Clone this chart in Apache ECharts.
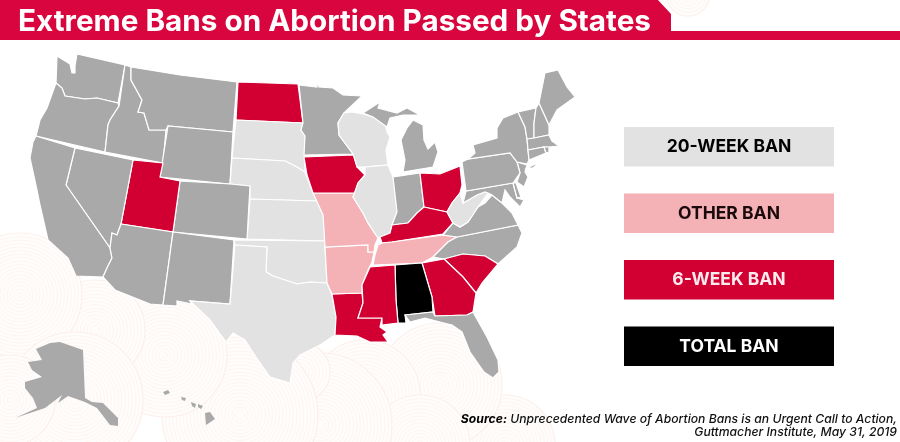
<!DOCTYPE html>
<html>
<head>
<meta charset="utf-8">
<style>html,body{margin:0;padding:0;background:#fff}#map{width:900px;height:442px}</style>
<script src="https://cdn.jsdelivr.net/npm/echarts@6/dist/echarts.min.js"></script>
</head>
<body>
<div id="map"></div>
<script>
// which state has which ban
var twentyWeek = ['SD', 'NE', 'KS', 'OK', 'TX', 'WI', 'IL', 'WV'];
var otherBan = ['MO', 'AR', 'TN'];
var sixWeek = ['ND', 'IA', 'UT', 'OH', 'KY', 'MS', 'LA', 'GA', 'SC'];
var totalBan = ['AL'];
var noBan = ['WA', 'OR', 'CA', 'NV', 'ID', 'MT', 'WY', 'CO', 'AZ', 'NM', 'MN', 'MI', 'IN', 'PA', 'NY', 'VT', 'NH', 'ME',
    'MA', 'CT', 'RI', 'NJ', 'DE', 'MD', 'VA', 'NC', 'FL', 'AK', 'HI'];

var legendNames = ['20-WEEK BAN', 'OTHER BAN', '6-WEEK BAN', 'TOTAL BAN'];
var legendColors = ['#e2e2e2', '#f4b1b6', '#d20032', '#000000'];
var legendText = ['#000000', '#1a0a0c', '#fbeaee', '#ffffff'];
var greyColor = '#a9a9a9';

var titleText = 'Extreme Bans on Abortion Passed by States';

// outlines, same x/y as the page (there is no map file to load offline)
var outlines = {
    WA: [[[57,56],[70,64],[72,73],[75,73],[75,66],[77,54],[125,65],[118,103],[97,98],[85,99],[65,96],[62,88],[56,83]]],
    OR: [[[56,83],[62,88],[65,96],[85,99],[97,98],[118,103],[119,106],[110,120],[108,125],[105,152],[36,136],[40,120],[47,108]]],
    ID: [[[125,65],[131,67],[131,80],[142,100],[138,112],[144,113],[149,130],[166,130],[163,163],[105,152],[108,125],[110,120],[119,106]]],
    MT: [[[131,67],[180,75],[237,82],[233,132],[168,126],[166,130],[149,130],[144,113],[138,112],[142,100],[131,80]]],
    WY: [[[168,126],[233,132],[230,184],[160,177]]],
    ND: [[[238,82],[298,84],[303,123],[236,120]]],
    SD: [[[236,120],[303,123],[301,130],[305,136],[305,172],[297,167],[285,161],[232,158]]],
    NE: [[[232,158],[285,161],[297,167],[305,172],[311,188],[317,201],[250,199],[250,186],[230,184]]],
    KS: [[[250,199],[317,201],[325,212],[326,241],[247,239]]],
    CO: [[[180,181],[230,184],[250,186],[247,239],[173,232]]],
    UT: [[[133,160],[163,163],[160,177],[180,181],[173,232],[121,224]]],
    NV: [[[75,148],[133,160],[121,224],[117,235],[112,233],[110,248],[66,185]]],
    CA: [[[36,136],[75,148],[66,185],[110,248],[112,258],[107,268],[103,277],[76,276],[68,258],[48,240],[40,205],[37,190],[30,158],[33,142]]],
    AZ: [[[121,224],[173,232],[163,305],[150,304],[115,290],[103,277],[107,268],[112,258],[110,248],[112,233],[117,235]]],
    NM: [[[173,232],[234,240],[230,304],[190,301],[192,304],[177,301],[177,306],[163,305]]],
    OK: [[[234,240],[326,241],[325,247],[327,283],[310,282],[297,284],[273,276],[266,272],[267,247],[235,245]]],
    TX: [[[235,245],[267,247],[266,272],[273,276],[297,284],[310,282],[327,283],[332,295],[336,317],[335,335],[320,345],[300,355],[293,363],[290,383],[270,377],[256,357],[245,340],[233,333],[226,342],[210,320],[190,301],[230,304]]],
    LA: [[[332,294],[362,293],[363,303],[358,318],[382,318],[380,327],[387,332],[383,335],[388,342],[370,342],[357,336],[335,335],[336,317]]],
    AR: [[[325,247],[368,245],[368,252],[374,252],[372,262],[368,270],[362,285],[362,293],[332,294],[327,283]]],
    MO: [[[313,193],[355,193],[353,197],[363,213],[368,223],[378,238],[375,245],[374,252],[368,252],[368,245],[325,247],[324,230],[323,215]]],
    IA: [[[304,157],[354,155],[357,167],[365,175],[358,183],[355,193],[313,193],[307,175]]],
    MN: [[[299,85],[317,87],[317,80],[319,87],[333,88],[343,95],[362,96],[344,113],[338,123],[339,135],[353,154],[304,155],[305,136],[301,130],[303,123]]],
    WI: [[[344,113],[352,112],[363,114],[373,117],[385,123],[387,132],[390,137],[386,150],[388,165],[365,167],[357,167],[353,154],[339,135],[338,123]]],
    MI: [[[363,113],[380,102],[378,108],[397,113],[407,108],[420,115],[403,115],[390,118],[387,127],[373,117]],
        [[413,120],[423,125],[424,140],[428,149],[435,142],[438,152],[433,167],[403,172],[405,160],[401,140],[407,128]]],
    IL: [[[365,167],[388,165],[393,177],[395,190],[397,212],[392,225],[390,233],[380,237],[378,238],[368,223],[363,213],[353,197],[358,183],[365,175]]],
    IN: [[[393,177],[420,173],[424,207],[417,213],[408,223],[392,225],[397,212]]],
    OH: [[[420,173],[440,174],[460,166],[462,185],[460,193],[452,203],[447,212],[433,209],[424,207]]],
    KY: [[[424,207],[433,209],[447,212],[453,223],[443,234],[392,242],[382,243],[380,237],[390,233],[392,225],[408,223],[417,213]]],
    TN: [[[378,245],[382,243],[392,242],[443,235],[457,237],[448,242],[433,257],[422,263],[373,265],[375,255]]],
    NC: [[[457,237],[518,225],[522,233],[517,247],[498,264],[485,256],[463,254],[444,259],[433,257],[448,242]]],
    VA: [[[443,235],[453,223],[460,227],[468,222],[478,207],[485,203],[492,195],[502,203],[512,213],[518,225],[457,237]]],
    WV: [[[447,212],[452,203],[460,193],[463,203],[477,195],[485,192],[488,193],[478,207],[468,222],[460,227],[453,223]]],
    MD: [[[466,191],[513,183],[517,198],[524,200],[520,207],[510,197],[505,190],[502,203],[492,195],[488,193],[485,192],[477,195],[463,203]]],
    DE: [[[513,183],[516,183],[521,197],[517,198]]],
    NJ: [[[517,162],[527,165],[525,172],[528,177],[524,187],[517,182],[520,173]]],
    PA: [[[462,162],[468,159],[510,153],[517,162],[520,173],[513,183],[466,191]]],
    NY: [[[468,159],[475,153],[473,145],[497,138],[497,128],[503,118],[518,112],[525,127],[527,139],[528,150],[529,160],[527,164],[517,162],[510,153]],
        [[527,168],[540,162],[533,168]]],
    VT: [[[518,112],[536,108],[534,123],[534,138],[527,139],[525,127]]],
    NH: [[[536,108],[539,103],[549,125],[549,135],[534,138],[534,123]]],
    ME: [[[539,103],[545,73],[558,70],[567,87],[575,97],[557,110],[549,125]]],
    MA: [[[527,139],[534,138],[549,135],[552,141],[559,146],[549,147],[544,147],[528,150]]],
    CT: [[[528,150],[544,147],[546,153],[529,160]]],
    RI: [[[544,147],[549,147],[549,152],[546,153]]],
    SC: [[[444,259],[463,254],[485,256],[498,264],[482,283],[476,293],[463,277]]],
    GA: [[[422,263],[444,259],[463,277],[476,293],[473,312],[467,315],[435,316],[432,297]]],
    AL: [[[395,265],[422,263],[432,297],[433,312],[405,315],[406,323],[398,323],[396,300]]],
    MS: [[[370,267],[395,265],[396,300],[398,323],[382,325],[382,318],[358,318],[363,303],[362,285]]],
    FL: [[[405,315],[433,312],[435,316],[467,315],[473,312],[487,337],[498,360],[499,372],[493,378],[484,372],[470,352],[462,332],[452,325],[440,322],[425,318],[410,322]]],
    AK: [[[36,349],[50,343],[60,342],[83,350],[85,398],[92,402],[103,403],[118,418],[118,426],[110,425],[97,408],[85,402],[68,396],[58,403],[62,395],[45,408],[15,418],[37,408],[33,398],[25,388],[25,382],[42,377],[32,370],[28,362],[42,360]]],
    HI: [[[163,392],[168,390],[170,393],[165,395]],
        [[181,397],[186,398],[185,401],[182,400]],
        [[191,402],[196,404],[195,408],[192,406]],
        [[198,404],[203,406],[201,409],[198,407]],
        [[205,413],[210,412],[215,419],[206,425]]]
};

function buildGeoJson() {
    var features = [];
    for (var code in outlines) {
        features.push({
            type: 'Feature',
            properties: { name: code },
            geometry: {
                type: 'MultiPolygon',
                // map y grows upwards, page y grows downwards
                coordinates: outlines[code].map(function (ring) {
                    return [ring.map(function (p) { return [p[0], -p[1]]; })];
                })
            }
        });
    }
    return { type: 'FeatureCollection', features: features };
}

function stateData(list, color) {
    return list.map(function (code) {
        var style = { areaColor: color };
        // the insets have no white edge in the picture
        if (code === 'AK' || code === 'HI') {
            style.borderWidth = 0;
        }
        return { name: code, itemStyle: style };
    });
}

// pale swirl pattern behind the map
function swirl(cx, cy, r) {
    var out = [];
    for (var k = r; k > 2; k -= 3.5) {
        out.push({
            type: 'circle',
            silent: true,
            z: 0,
            shape: { cx: cx, cy: cy, r: k },
            style: { fill: k === r ? '#fffdfc' : 'none', stroke: '#fcefe9', lineWidth: k === r ? 1.2 : 0.6 }
        });
    }
    return out;
}

var swirls = [[505, 445, 50], [440, 385, 62], [365, 395, 55], [420, 445, 50], [320, 425, 72], [300, 372, 30], [240, 415, 78],
    [165, 355, 62], [95, 330, 50], [20, 295, 62], [75, 400, 68], [10, 400, 45]];
var graphics = [];
swirls.forEach(function (s) {
    graphics = graphics.concat(swirl(s[0], s[1], s[2]));
});
graphics = graphics.concat(swirl(688, -6, 22));

// header band with the notch on the right
graphics.push({
    type: 'polygon',
    silent: true,
    z: 5,
    shape: { points: [[0, 0], [658, 0], [671, 14], [671, 31], [900, 31], [900, 40], [0, 40]] },
    style: { fill: '#d9053e' }
});

legendNames.forEach(function (name, i) {
    graphics.push({
        type: 'rect',
        silent: true,
        z: 5,
        shape: { x: 624, y: 127 + i * 66.5, width: 210, height: 39.5 },
        style: { fill: legendColors[i] }
    });
    graphics.push({
        type: 'text',
        silent: true,
        z: 6,
        style: {
            x: 729,
            y: 147 + i * 66.5,
            text: name,
            align: 'center',
            verticalAlign: 'middle',
            fill: legendText[i],
            font: '700 17.5px Inter, sans-serif'
        }
    });
});

var sourceFont = 'italic 500 12.2px Inter, sans-serif';
graphics.push({
    type: 'text',
    silent: true,
    z: 6,
    style: {
        x: 897,
        y: 419,
        text: '{b|Source:} Unprecedented Wave of Abortion Bans is an Urgent Call to Action,',
        align: 'right',
        verticalAlign: 'middle',
        fill: '#111',
        font: sourceFont,
        rich: { b: { font: 'italic 700 12.2px Inter, sans-serif', fill: '#000' } }
    }
});
graphics.push({
    type: 'text',
    silent: true,
    z: 6,
    style: {
        x: 897,
        y: 432,
        text: 'Guttmacher Institute, May 31, 2019',
        align: 'right',
        verticalAlign: 'middle',
        fill: '#111',
        font: sourceFont
    }
});

var myChart = echarts.init(document.getElementById('map'), null, { renderer: 'canvas' });
echarts.registerMap('usStates', buildGeoJson());

var option = {
    animation: false,
    backgroundColor: '#fff',
    title: {
        text: titleText,
        left: 13,
        top: 2,
        z: 10,
        textStyle: { color: '#fff', fontFamily: 'Inter, sans-serif', fontWeight: 700, fontSize: 29.7 }
    },
    tooltip: { show: false },
    graphic: { elements: graphics },
    series: [{
        type: 'map',
        map: 'usStates',
        roam: false,
        aspectScale: 1,
        boundingCoords: [[0, 0], [900, -442]],
        left: 0,
        top: 0,
        right: 0,
        bottom: 0,
        z: 3,
        silent: true,
        label: { show: false },
        itemStyle: { areaColor: greyColor, borderColor: '#fff', borderWidth: 1.2 },
        data: [].concat(
            stateData(twentyWeek, legendColors[0]),
            stateData(otherBan, legendColors[1]),
            stateData(sixWeek, legendColors[2]),
            stateData(totalBan, legendColors[3]),
            stateData(noBan, greyColor)
        )
    }]
};

myChart.setOption(option);
</script>
</body>
</html>
